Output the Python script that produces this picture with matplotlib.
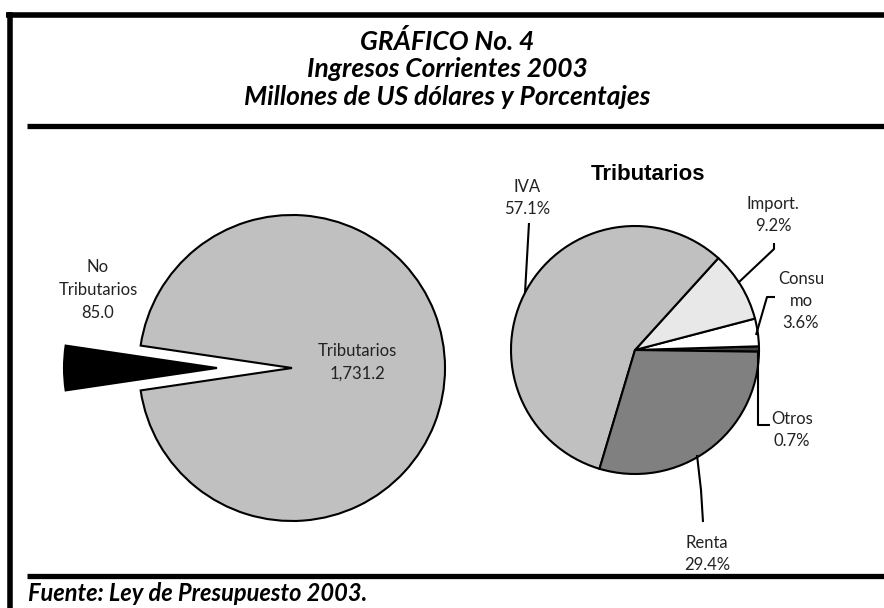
import matplotlib
matplotlib.use('Agg')
import matplotlib.pyplot as plt
from matplotlib import font_manager

# ---- data ----
left_labels = ['No Tributarios', 'Tributarios']
left_values = [85.0, 1731.2]
left_text = ['No\nTributarios\n85.0', 'Tributarios\n1,731.2']

right_labels = ['Otros', 'Consumo', 'Import.', 'IVA', 'Renta']
right_values = [0.7, 3.6, 9.2, 57.1, 29.4]
right_text = ['Otros\n0.7%', 'Consu\nmo\n3.6%', 'Import.\n9.2%', 'IVA\n57.1%', 'Renta\n29.4%']

title_lines = ['GRÁFICO No. 4', 'Ingresos Corrientes 2003', 'Millones de US dólares y Porcentajes']
subtitle = 'Tributarios'
source = 'Fuente: Ley de Presupuesto 2003.'


def pick(cands):
    for c in cands:
        try:
            font_manager.findfont(font_manager.FontProperties(family=c), fallback_to_default=False)
            return c
        except Exception:
            pass
    return 'DejaVu Sans'

TITLE = pick(['Lato', 'Open Sans', 'DejaVu Sans'])
LABEL = pick(['Lato', 'Open Sans', 'DejaVu Sans'])
ARIAL = pick(['Liberation Sans', 'DejaVu Sans'])

W, H = 884, 608
fig = plt.figure(figsize=(W / 100, H / 100), dpi=100)
ax = fig.add_axes([0, 0, 1, 1])


def Y(y):
    return H - y


def line(xs, ys, lw):
    ax.plot(xs, [Y(v) for v in ys], color='black', lw=lw, solid_capstyle='butt')


def txt(x, y, s, **kw):
    ax.text(x, Y(y), s, ha='center', va='center', **kw)


# ---- left pie (explode is in data units = pixels here) ----
half = left_values[0] / sum(left_values) * 360 / 2
ax.pie(left_values, colors=['black', '#c0c0c0'], explode=[75, 0],
       startangle=180 - half, center=(292, Y(368)), radius=153,
       wedgeprops=dict(edgecolor='black', linewidth=1.5))

# ---- right pie ----
ax.pie(right_values, colors=['#404040', 'white', '#e8e8e8', '#c0c0c0', '#808080'],
       startangle=-0.8, center=(635, Y(350)), radius=124,
       wedgeprops=dict(edgecolor='black', linewidth=1.5))

ax.set_xlim(0, W)
ax.set_ylim(0, H)
ax.axis('off')

# ---- frame ----
line([6, W], [15, 15], 4)
line([9.5, 9.5], [12, H], 4)
line([27, W], [126, 126], 3.8)
line([27, W], [576, 576], 3.8)

# ---- titles ----
for s, y in zip(title_lines, [41, 69, 97]):
    txt(447, y, s, fontsize=19, fontweight='bold', fontstyle='italic', family=TITLE)
txt(648, 175, subtitle, fontsize=16, fontweight='bold', family=ARIAL)
ax.text(28, Y(601), source, ha='left', va='baseline', fontsize=17,
        fontweight='bold', fontstyle='italic', family=TITLE)

lab = dict(fontsize=12, family=LABEL, color='#222222', linespacing=1.5)

# left labels
txt(98, 290, left_text[0], **lab)
txt(357, 362, left_text[1], **lab)

# right labels
txt(792, 430, right_text[0], **lab)
txt(801, 301, right_text[1], **lab)
txt(773, 215, right_text[2], **lab)
txt(527, 198, right_text[3], **lab)
txt(707, 554, right_text[4], **lab)

# leader lines
line([529, 525], [223, 293], 1.5)
line([774, 774, 738], [243, 249, 283], 1.5)
line([775, 767, 756], [297, 297, 335], 1.5)
line([758, 758, 770], [350, 425, 425], 1.5)
line([697, 701, 703], [455, 490, 522], 1.5)

fig.savefig('out.png', dpi=100)
